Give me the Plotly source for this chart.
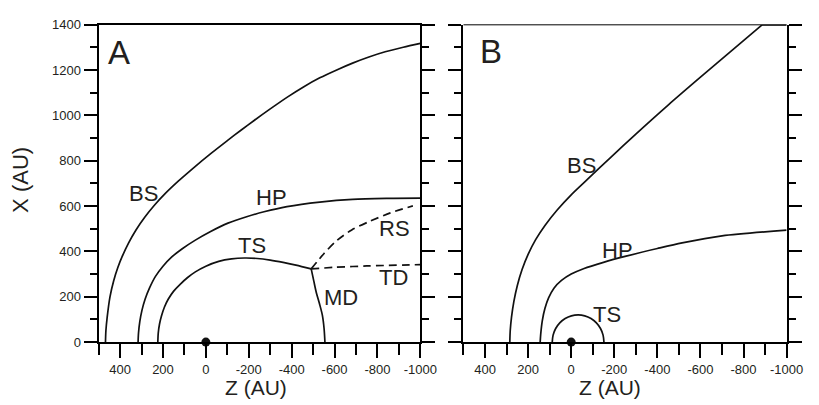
import plotly.graph_objects as go

# ---------------- data (Z, X in AU) ----------------
# Panel A
a_bs_z = [468, 466, 460, 447, 430, 410, 390, 360, 325, 285, 240, 190, 130, 60, -27, -100, -165, -225,
          -300, -378, -455, -531, -610, -684, -760, -836, -920, -1000]
a_bs_x = [0, 50, 110, 200, 270, 330, 378, 438, 496, 551, 604, 655, 709, 767, 835, 889, 936, 978,
          1029, 1080, 1126, 1166, 1201, 1231, 1258, 1281, 1301, 1318]

a_hp_z = [316, 314, 308, 298, 283, 262, 235, 200, 160, 110, 49, -20, -103, -190, -271, -378, -531, -684, -850, -1000]
a_hp_x = [0, 40, 90, 140, 190, 240, 290, 335, 375, 412, 450, 487, 525, 553, 575, 598, 618, 630, 634, 635]

a_ts_z = [224, 222, 216, 207, 193, 175, 150, 120, 85, 49, 0, -60, -120, -180, -240, -300, -360, -420, -491]
a_ts_x = [0, 40, 80, 115, 155, 190, 225, 255, 285, 310, 335, 356, 367, 371, 369, 362, 352, 340, 323]

a_md_z = [-491, -503, -515, -530, -543, -551, -555]
a_md_x = [323, 270, 218, 168, 119, 60, 0]

a_td_z = [-491, -600, -750, -1000]
a_td_x = [323, 330, 336, 342]

a_rs_z = [-491, -550, -607, -680, -759, -860, -965]
a_rs_x = [323, 390, 445, 495, 531, 570, 601]

# Panel B
b_bs_z = [285, 283, 277, 266, 250, 228, 200, 165, 120, 65, 0, -80, -180, -300, -450, -600, -886]
b_bs_x = [0, 50, 110, 180, 250, 320, 387, 452, 517, 583, 650, 722, 812, 918, 1046, 1169, 1400]
b_bs_top_z = [-886, -1000]
b_bs_top_x = [1400, 1400]

b_hp_z = [144, 141, 134, 122, 105, 80, 45, 0, -60, -150, -250, -400, -515, -700, -1000]
b_hp_x = [0, 40, 95, 148, 195, 238, 272, 300, 325, 352, 378, 413, 438, 469, 494]

b_ts_z = [88, 84, 72, 53, 28, -1, -32, -63, -92, -117, -136, -148, -152]
b_ts_x = [0, 31, 60, 85, 104, 116, 120, 116, 104, 85, 60, 31, 0]

sun_z = [0]
sun_x = [0]

x_tickvals = [400, 200, 0, -200, -400, -600, -800, -1000]
x_ticktext = ["400", "200", "0", "-200", "-400", "-600", "-800", "-1000"]
x_minor = [500, 300, 100, -100, -300, -500, -700, -900]
y_tickvals = [0, 200, 400, 600, 800, 1000, 1200, 1400]
y_ticktext = ["0", "200", "400", "600", "800", "1000", "1200", "1400"]
y_minor = [100, 300, 500, 700, 900, 1100, 1300]

# ---------------- figure ----------------
FONT = "Liberation Sans, Arial, Helvetica, sans-serif"
TXT = "#231f20"
W, H = 819, 405

fig = go.Figure()


def curve(z, x, xa, ya, dash="solid", shape="spline"):
    fig.add_trace(go.Scatter(
        x=z, y=x, xaxis=xa, yaxis=ya, mode="lines",
        line=dict(color="#111111", width=1.7, dash=dash, shape=shape, smoothing=0.8),
        hoverinfo="skip", showlegend=False))


DASH = "8px,5px"
curve(a_bs_z, a_bs_x, "x", "y")
curve(a_hp_z, a_hp_x, "x", "y")
curve(a_ts_z, a_ts_x, "x", "y")
curve(a_md_z, a_md_x, "x", "y")
curve(a_td_z, a_td_x, "x", "y", DASH)
curve(a_rs_z, a_rs_x, "x", "y", DASH)

curve(b_bs_z, b_bs_x, "x2", "y2")
curve(b_bs_top_z, b_bs_top_x, "x2", "y2", shape="linear")
curve(b_hp_z, b_hp_x, "x2", "y2")
curve(b_ts_z, b_ts_x, "x2", "y2")

for xa, ya in (("x", "y"), ("x2", "y2")):
    fig.add_trace(go.Scatter(
        x=sun_z, y=sun_x, xaxis=xa, yaxis=ya, mode="markers",
        marker=dict(color="#111111", size=9), cliponaxis=False,
        hoverinfo="skip", showlegend=False))

ydom = [(H - 348) / H, (H - 18.5) / H]
xdomA = [100.7 / W, 429.3 / W]
xdomB = [473.3 / W, 803.3 / W]


def xaxis_cfg(dom, anchor, mirror):
    return dict(
        domain=dom, anchor=anchor, range=[500, -1000],
        tickmode="array", tickvals=x_tickvals, ticktext=x_ticktext,
        ticks="outside", ticklen=14, tickwidth=2, tickcolor="black",
        showline=True, linewidth=2, linecolor="black", mirror=mirror,
        showgrid=False, zeroline=False,
        tickfont=dict(family=FONT, size=13, color=TXT),
        minor=dict(tickmode="array", tickvals=x_minor, ticks="outside",
                   ticklen=11, tickwidth=2, tickcolor="black", showgrid=False),
    )


def yaxis_cfg(anchor, labels):
    return dict(
        domain=ydom, anchor=anchor, range=[0, 1400],
        tickmode="array", tickvals=y_tickvals, ticktext=y_ticktext,
        showticklabels=labels,
        ticks="outside", ticklen=13, tickwidth=2, tickcolor="black",
        showline=True, linewidth=2, linecolor="black", mirror="ticks",
        showgrid=False, zeroline=False,
        tickfont=dict(family=FONT, size=13, color=TXT),
        minor=dict(tickmode="array", tickvals=y_minor, ticks="outside",
                   ticklen=7, tickwidth=2, tickcolor="black", showgrid=False),
    )


ann = []


def label(text, z, x, xref, yref, size=22, xanchor="center"):
    ann.append(dict(text=text, x=z, y=x, xref=xref, yref=yref, showarrow=False,
                    xanchor=xanchor, yanchor="middle",
                    font=dict(family=FONT, size=size, color=TXT)))


label("A", 466, 1279, "x", "y", size=33, xanchor="left")
label("BS", 291, 655, "x", "y")
label("HP", -305, 640, "x", "y")
label("TS", -214, 428, "x", "y")
label("RS", -878, 502, "x", "y")
label("TD", -875, 285, "x", "y")
label("MD", -628, 196, "x", "y")

label("B", 432, 1281, "x2", "y2", size=33, xanchor="left")
label("BS", -49, 779, "x2", "y2")
label("HP", -217, 406, "x2", "y2")
label("TS", -167, 123, "x2", "y2")

ann.append(dict(text="X (AU)", x=21 / W, y=(H - 180) / H, xref="paper", yref="paper",
                showarrow=False, textangle=-90, xanchor="center", yanchor="middle",
                font=dict(family=FONT, size=22, color=TXT)))
for cx in (261, 622.5):
    ann.append(dict(text="Z (AU)", x=cx / W, y=(H - 395) / H, xref="paper", yref="paper",
                    showarrow=False, xanchor="center", yanchor="middle",
                    font=dict(family=FONT, size=21, color=TXT)))

# thin top border of panel B
shapes = [dict(type="line", xref="x2 domain", yref="y2 domain", x0=0, x1=1, y0=1, y1=1,
               line=dict(color="black", width=1))]

fig.update_layout(
    width=W, height=H, margin=dict(l=0, r=0, t=0, b=0),
    paper_bgcolor="white", plot_bgcolor="white", showlegend=False,
    xaxis=xaxis_cfg(xdomA, "y", True), yaxis=yaxis_cfg("x", True),
    xaxis2=xaxis_cfg(xdomB, "y2", False), yaxis2=yaxis_cfg("x2", False),
    annotations=ann, shapes=shapes,
)

fig.write_html("out.html")
